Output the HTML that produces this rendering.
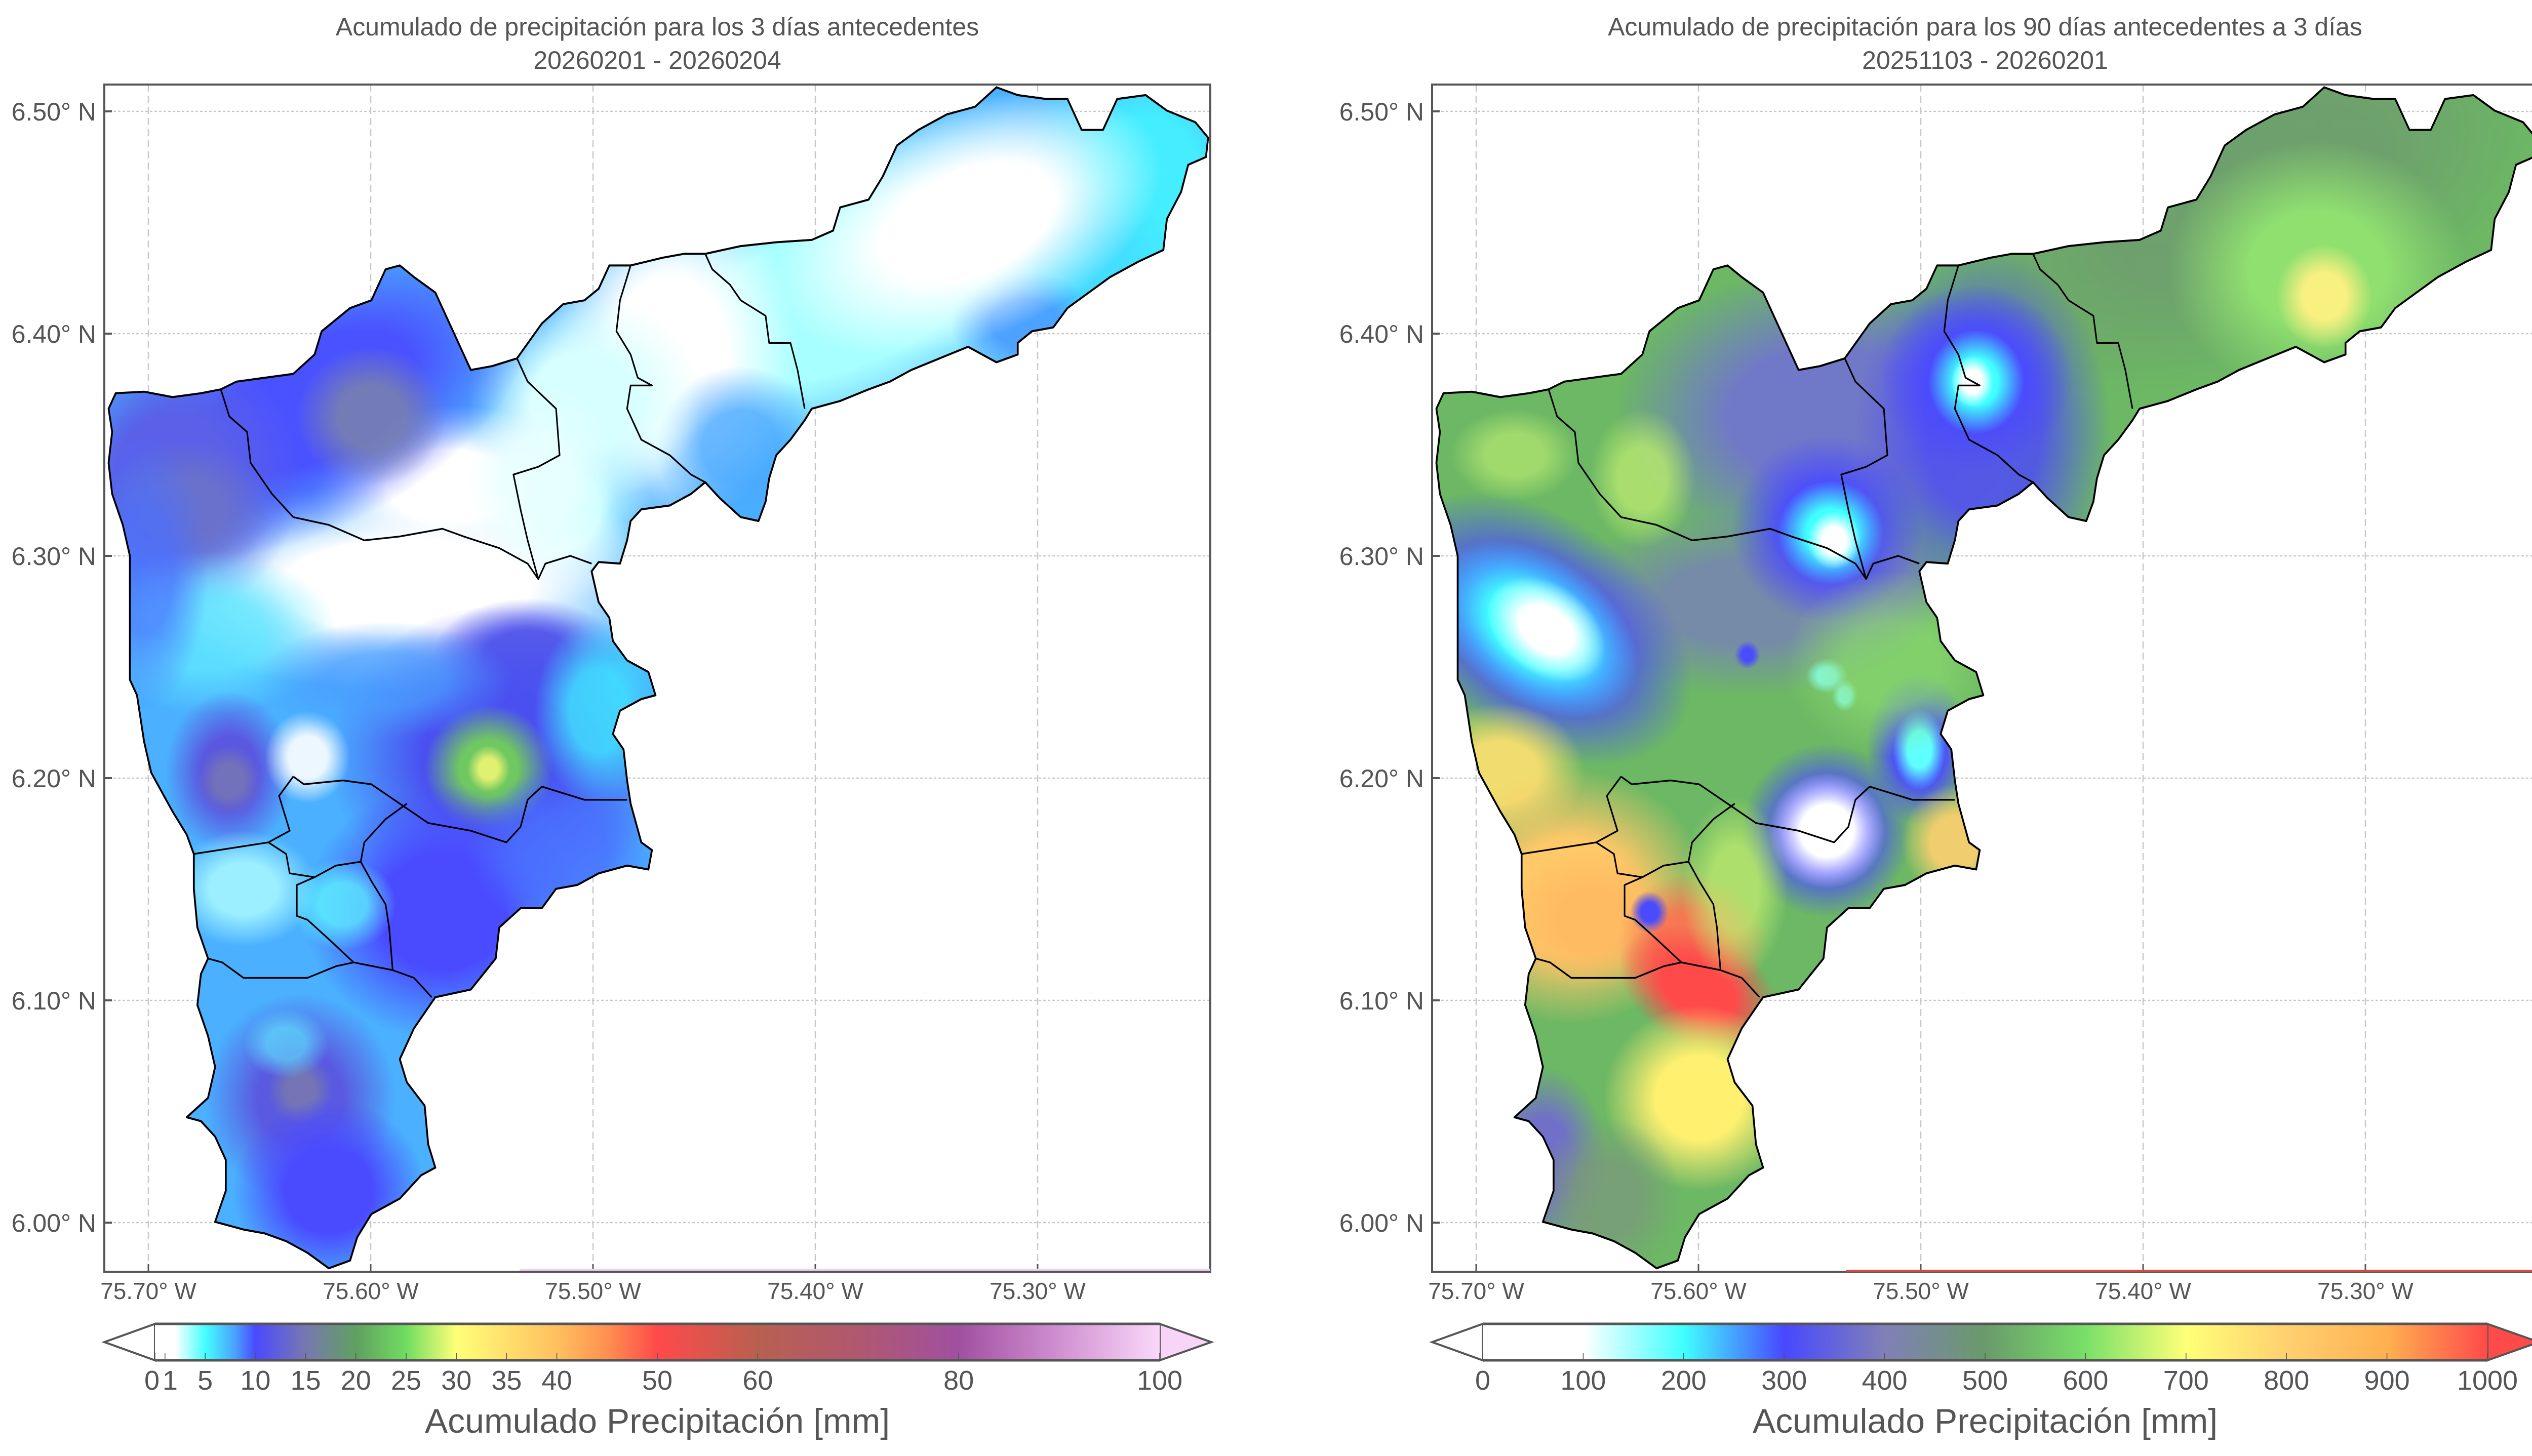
<!DOCTYPE html>
<html><head><meta charset="utf-8"><style>
html,body{margin:0;padding:0;background:#fff;}
svg{display:block;font-family:"Liberation Sans",sans-serif;}
</style></head><body>
<svg id="fig" width="5044" height="2876" viewBox="0 0 5044 2876" xmlns="http://www.w3.org/2000/svg">
<defs id="defs">
<linearGradient id="cbL" x1="0" x2="1" y1="0" y2="0">
<stop offset="0" stop-color="#ffffff"/><stop offset="0.02" stop-color="#ffffff"/><stop offset="0.05" stop-color="#44ffff"/><stop offset="0.08" stop-color="#4aa0ff"/><stop offset="0.10" stop-color="#4a4aff"/><stop offset="0.15" stop-color="#7878b0"/><stop offset="0.20" stop-color="#60a060"/><stop offset="0.25" stop-color="#70dd60"/><stop offset="0.30" stop-color="#ffff78"/><stop offset="0.40" stop-color="#ffc060"/><stop offset="0.45" stop-color="#ff9050"/><stop offset="0.50" stop-color="#ff4a4a"/><stop offset="0.60" stop-color="#b86050"/><stop offset="0.70" stop-color="#b05870"/><stop offset="0.80" stop-color="#a050a0"/><stop offset="0.90" stop-color="#d090d0"/><stop offset="1" stop-color="#fad8fa"/>
</linearGradient>
<linearGradient id="cbR" x1="0" x2="1" y1="0" y2="0">
<stop offset="0" stop-color="#ffffff"/><stop offset="0.1" stop-color="#ffffff"/><stop offset="0.2" stop-color="#40ffff"/><stop offset="0.3" stop-color="#4848ff"/><stop offset="0.4" stop-color="#8080b8"/><stop offset="0.5" stop-color="#6a9a6a"/><stop offset="0.6" stop-color="#78e068"/><stop offset="0.7" stop-color="#ffff78"/><stop offset="0.8" stop-color="#ffd070"/><stop offset="0.9" stop-color="#ffb050"/><stop offset="1" stop-color="#ff4a4a"/>
</linearGradient>
</defs>
<g id="root"></g>
</svg>
<script>
// Axis tick data
const lonTicks = [75.70, 75.60, 75.50, 75.40, 75.30];
const latTicks = [6.50, 6.40, 6.30, 6.20, 6.10, 6.00];
const lonLabels = ["75.70° W","75.60° W","75.50° W","75.40° W","75.30° W"];
const latLabels = ["6.50° N","6.40° N","6.30° N","6.20° N","6.10° N","6.00° N"];
const cbLeftTicks = [0,1,5,10,15,20,25,30,35,40,50,60,80,100];
const cbLeftLabels = ["0","1","5","10","15","20","25","30","35","40","50","60","80","100"];
const cbRightTicks = [0,100,200,300,400,500,600,700,800,900,1000];
const cbRightLabels = ["0","100","200","300","400","500","600","700","800","900","1000"];
const titlesLeft = ["Acumulado de precipitación para los 3 días antecedentes","20260201 - 20260204"];
const titlesRight = ["Acumulado de precipitación para los 90 días antecedentes a 3 días","20251103 - 20260201"];

const NS="http://www.w3.org/2000/svg";
const root=document.getElementById('root');
const defs=document.getElementById('defs');
function mk(tag,attrs,parent){const e=document.createElementNS(NS,tag);for(const k in attrs)e.setAttribute(k,attrs[k]);(parent||root).appendChild(e);return e;}

const outline=[[20,410],[60,408],[100,415],[140,410],[168,405],[190,395],[230,390],[270,385],[300,360],[310,330],[350,300],[380,290],[400,250],[420,245],[440,260],[470,280],[480,300],[500,340],[520,380],[550,375],[585,365],[620,320],[650,295],[680,290],[700,275],[715,245],[745,245],[790,235],[820,230],[850,230],[900,220],[950,215],[1000,212],[1030,200],[1040,170],[1080,160],[1100,130],[1120,90],[1150,70],[1190,50],[1230,40],[1260,15],[1290,25],[1330,30],[1360,30],[1380,70],[1410,70],[1430,30],[1470,25],[1500,45],[1540,60],[1558,80],[1555,105],[1530,115],[1520,150],[1500,185],[1495,225],[1460,240],[1420,260],[1390,280],[1360,300],[1340,325],[1310,330],[1290,345],[1290,360],[1260,370],[1220,350],[1180,365],[1140,380],[1110,395],[1080,405],[1040,420],[1000,430],[990,445],[970,470],[950,490],[940,520],[935,550],[925,575],[900,570],[870,545],[850,525],[830,540],[800,555],[760,560],[745,575],[740,600],[730,630],[700,628],[690,640],[700,680],[715,700],[720,730],[740,755],[770,770],[780,800],[760,805],[730,820],[720,850],[735,870],[740,910],[745,940],[760,990],[775,1000],[770,1025],[740,1020],[700,1030],[670,1045],[640,1050],[620,1075],[590,1075],[560,1100],[555,1140],[520,1180],[470,1190],[440,1230],[420,1270],[430,1300],[455,1330],[460,1380],[470,1410],[450,1420],[420,1450],[380,1470],[360,1500],[350,1530],[320,1540],[290,1520],[260,1505],[230,1495],[200,1490],[160,1480],[175,1440],[175,1400],[160,1370],[140,1350],[120,1345],[150,1320],[160,1280],[150,1240],[135,1200],[140,1160],[150,1140],[135,1100],[130,1050],[130,1005],[120,980],[100,950],[70,900],[60,860],[50,800],[40,780],[40,700],[40,620],[30,580],[15,540],[10,500],[15,460],[10,430]];
const borders=[
[[168,405],[180,440],[205,460],[210,500],[240,540],[270,570],[320,580],[370,600],[420,595],[480,585],[510,595],[560,610],[600,630],[615,650],[625,630],[660,620],[690,630]],
[[585,365],[600,395],[640,430],[645,490],[615,505],[580,515],[590,560],[600,600],[615,650]],
[[745,245],[730,290],[725,330],[745,360],[755,390],[775,400],[745,400],[740,430],[760,470],[800,490],[830,515],[850,525]],
[[850,230],[860,250],[885,270],[900,290],[935,310],[940,345],[970,345],[980,380],[990,430]],
[[270,905],[285,915],[340,910],[380,915],[420,940],[460,965],[520,975],[570,990],[590,970],[600,935],[620,918],[680,935],[740,935]],
[[270,905],[250,930],[265,975],[235,990],[130,1005]],
[[430,940],[400,960],[370,990],[365,1015],[330,1020],[300,1035],[275,1045],[275,1085],[290,1090],[320,1115],[355,1145],[330,1150],[290,1165],[240,1165],[200,1165],[170,1145],[150,1140]],
[[365,1015],[380,1040],[400,1070],[405,1100],[410,1155],[440,1165],[465,1190]],
[[235,990],[260,1005],[265,1030],[300,1035]],
[[355,1145],[410,1155]]];
const pts=a=>a.map(p=>p.join(',')).join(' ');

// blobs: [cx,cy,rx,ry,color,opacity,rot]
const blobsLeft=[
[1050,280,330,140,'#a8ffff',1,-20],[1470,150,120,140,'#44eeff',1,0],[1380,250,90,80,'#44ddff',0.9,0],[1300,320,70,45,'#4a9cff',0.9,0],
[1220,190,190,100,'#ffffff',1,-20],
[800,360,120,150,'#ffffff',1,0],[900,480,80,70,'#4aa8ff',0.8,0],[680,420,110,90,'#d8ffff',1,0],[640,560,90,80,'#c8ffff',1,0],
[490,530,130,70,'#ffffff',1,0],[430,660,260,90,'#ffffff',1,0],[620,520,70,80,'#e8ffff',0.9,0],
[300,420,220,110,'#4a52ff',1,-25],[380,440,70,60,'#7880b0',0.9,0],[100,520,120,120,'#5a60e8',1,0],[120,560,80,60,'#7078c0',0.7,0],
[150,720,120,70,'#60e8ff',0.8,0],[60,640,60,120,'#4a70ff',0.7,0],[600,750,90,50,'#5050e8',0.9,0],[560,880,160,130,'#4a50f0',1,0],
[545,895,60,55,'#70c860',1,0],[545,895,20,20,'#e0f070',1,0],[180,900,60,70,'#5a58e0',1,0],[180,910,30,30,'#7878b0',0.8,0],
[290,880,40,40,'#ffffff',0.9,0],[480,1080,130,110,'#4a4aff',1,0],[650,1000,90,70,'#4a70ff',0.8,0],
[200,1050,70,50,'#b0ffff',0.8,0],[340,1070,50,40,'#60ffff',0.7,0],[700,820,60,80,'#40e8ff',0.8,0],
[280,1320,90,90,'#5a5ae0',1,0],[280,1310,30,30,'#7878b0',0.9,0],[320,1440,90,80,'#4a4aff',1,0],[260,1250,40,30,'#60f0ff',0.6,0],
[400,780,120,50,'#4a9cff',0.7,0]];
const baseLeft='#4ab0ff';
const blobsRight=[
[1150,150,300,150,'#6e9e6e',0.9,-20],[1250,250,140,110,'#90e070',1,0],[1260,285,45,45,'#f8f080',1,0],
[560,440,200,130,'#7078c8',1,0],[450,680,180,80,'#7880b8',0.8,0],[620,650,80,60,'#7878c8',0.7,0],
[780,460,120,160,'#5050f0',0.9,0],[770,390,90,80,'#4a4aff',1,0],[770,395,45,45,'#40ffff',1,0],[765,395,20,22,'#ffffff',1,0],
[560,585,90,80,'#4a4aff',1,0],[565,590,50,45,'#40ffff',1,0],[570,600,25,25,'#ffffff',1,0],
[150,715,160,100,'#4a4aff',1,30],[150,715,105,65,'#40ffff',1,30],[165,715,60,40,'#ffffff',1,30],
[690,870,50,65,'#4a4aff',1,0],[690,870,25,35,'#60ffff',1,0],
[560,975,80,75,'#4a4aff',1,0],[560,975,55,50,'#ffffff',1,0],
[560,775,20,15,'#80ffff',1,0],[585,800,12,14,'#80ffff',1,0],[448,748,12,12,'#4a4aff',1,0],
[100,900,80,60,'#ffe070',0.9,0],[200,1060,130,110,'#ffc868',1,0],[230,1090,80,60,'#ffb860',0.8,0],
[370,1120,70,60,'#ff7050',0.9,0],[380,1180,80,50,'#ff4a4a',1,25],[740,990,50,50,'#ffd070',0.9,0],
[380,1320,90,80,'#fff070',1,0],[430,1050,50,80,'#c8f070',0.7,0],
[160,1400,60,80,'#7070c8',1,0],[250,1450,70,70,'#7a9a7a',0.8,0],[310,1080,18,18,'#4a4aff',1,0],
[300,520,50,60,'#b8e870',0.8,0],[120,490,60,40,'#b8e870',0.7,0],[650,760,100,80,'#90e070',0.6,0]];
const baseRight='#6cb864';

let gid=0;
function blobGrad(color,op){
  const id='bg'+(gid++);
  const g=mk('radialGradient',{id:id},defs);
  mk('stop',{offset:0,'stop-color':color,'stop-opacity':op},g);
  mk('stop',{offset:0.45,'stop-color':color,'stop-opacity':op},g);
  mk('stop',{offset:1,'stop-color':color,'stop-opacity':0},g);
  return id;
}

function drawMap(tx,base,blobs,id,name){
  const g=mk('g',{transform:`translate(${tx},149.6) scale(1.4026,1.5296)`,'clip-path':`url(#${id})`});
  
  
  const cp=mk('clipPath',{id:id},defs);
  mk('polygon',{points:pts(outline)},cp);
  const bg=mk('polygon',{points:pts(outline),fill:base},g);
  
  
  blobs.forEach(b=>{
    const gi=blobGrad(b[4],b[5]);
    const e=mk('ellipse',{cx:b[0],cy:b[1],rx:b[2]*1.5,ry:b[3]*1.5,fill:`url(#${gi})`,transform:`rotate(${b[6]} ${b[0]} ${b[1]})`},g);
    
    
  });
  borders.forEach(b=>{const l=mk('polyline',{points:pts(b),fill:'none',stroke:'#000','stroke-width':2.2,'stroke-linejoin':'round'},g);
    
    });
  const o=mk('polygon',{points:pts(outline),fill:'none',stroke:'#000','stroke-width':2.6,'stroke-linejoin':'round',transform:`translate(${tx},149.6) scale(1.4026,1.5296)`});
  
  
}

function panel(off,titles,baseCol,blobs,cid,cbGrad,cbTicks,cbLabels,cbMax,leftArrow,rightArrow,pname){
  const L=206+off,R=2390+off,T=167,B=2512;
  const lonX=v=>293+off+(75.70-v)*4390;
  const latY=v=>220+(6.50-v)*4390;
  lonTicks.forEach((v,i)=>{const l=mk('line',{x1:lonX(v),x2:lonX(v),y1:T,y2:B,stroke:'#c8c8c8','stroke-width':2.5,'stroke-dasharray':'14,8'});
    
    const t=mk('line',{x1:lonX(v),x2:lonX(v),y1:B-15,y2:B,stroke:'#555','stroke-width':3});
    
    const tx=mk('text',{x:lonX(v),y:2566,'text-anchor':'middle','font-size':46,fill:'#555'});tx.textContent=lonLabels[i];
    });
  latTicks.forEach((v,i)=>{const l=mk('line',{x1:L,x2:R,y1:latY(v),y2:latY(v),stroke:'#c8c8c8','stroke-width':2.5,'stroke-dasharray':'5,4'});
    
    const t=mk('line',{x1:L,x2:L+15,y1:latY(v),y2:latY(v),stroke:'#555','stroke-width':4});
    
    const tx=mk('text',{x:L-16,y:latY(v)+18,'text-anchor':'end','font-size':50,fill:'#555'});tx.textContent=latLabels[i];
    });
  drawMap(200.4+off,baseCol,blobs,cid,pname+'-map');
  const fr=mk('rect',{x:L,y:T,width:R-L,height:B-T,fill:'none',stroke:'#555','stroke-width':4});
  
  titles.forEach((s,i)=>{const t=mk('text',{x:(L+R)/2,y:70+i*66,'text-anchor':'middle','font-size':50,fill:'#555'});t.textContent=s;
    });
  const x0=306+off,x1=2290+off,y0=2615,y1=2687,ym=(y0+y1)/2;
  const la=mk('polygon',{points:`${x0},${y0} ${206+off},${ym} ${x0},${y1}`,fill:leftArrow,stroke:'#555','stroke-width':4});
  
  const ra=mk('polygon',{points:`${x1},${y0} ${2392+off},${ym} ${x1},${y1}`,fill:rightArrow,stroke:'#555','stroke-width':4});
  
  const cb=mk('rect',{x:x0,y:y0,width:x1-x0,height:y1-y0,fill:`url(#${cbGrad})`});
  
  mk('line',{x1:x0,x2:x1,y1:y0,y2:y0,stroke:'#555','stroke-width':5});
  mk('line',{x1:x0,x2:x1,y1:y1,y2:y1,stroke:'#555','stroke-width':5});
  const cx=v=>x0+(x1-x0)*v/cbMax;
  cbTicks.forEach((v,i)=>{const t=mk('line',{x1:cx(v),x2:cx(v),y1:y1-14,y2:y1,stroke:'#555','stroke-width':1.5});
    
    let xx=cx(v); if(cbMax==100&&v==0)xx-=6; if(cbMax==100&&v==1)xx+=10;
    const tx=mk('text',{x:xx,y:2745,'text-anchor':'middle','font-size':54,fill:'#555'});tx.textContent=cbLabels[i];
    });
  const lab=mk('text',{x:(L+R)/2,y:2830,'text-anchor':'middle','font-size':68,fill:'#555'});lab.textContent='Acumulado Precipitación [mm]';
  
}
panel(0,titlesLeft,baseLeft,blobsLeft,'clipL','cbL',cbLeftTicks,cbLeftLabels,100,'#ffffff','#f8d4f8','left-panel');
panel(2622,titlesRight,baseRight,blobsRight,'clipR','cbR',cbRightTicks,cbRightLabels,1000,'#ffffff','#ff4a4a','right-panel');
const rl=mk('line',{x1:3645,x2:5012,y1:2510,y2:2510,stroke:'#d84848','stroke-width':4});

const pl=mk('line',{x1:1026,x2:2390,y1:2508,y2:2508,stroke:'#f0d0f0','stroke-width':4});

</script>
</body></html>
